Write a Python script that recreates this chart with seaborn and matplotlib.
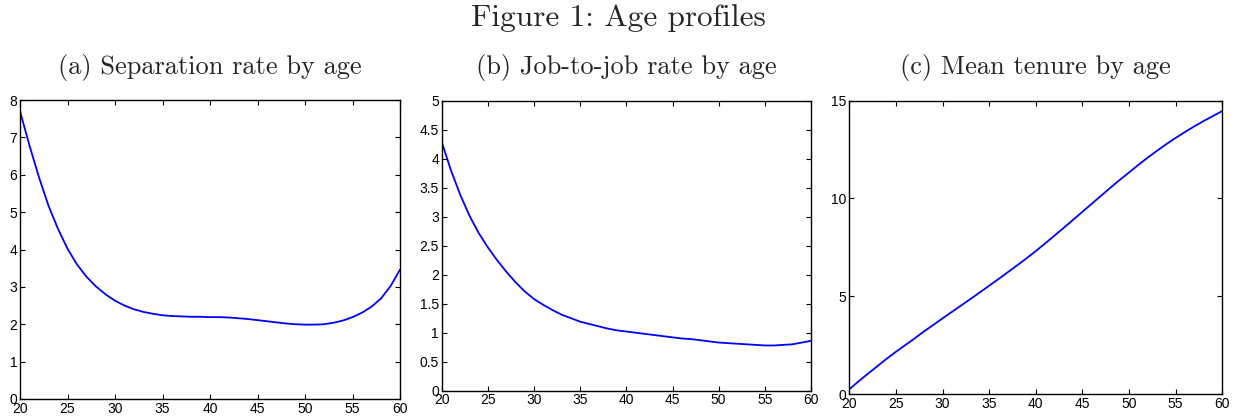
import numpy as np
import pandas as pd
import matplotlib
matplotlib.use("Agg")
import matplotlib.pyplot as plt
import seaborn as sns

ages = list(range(20, 61))

separation_rate = [7.70, 6.78, 5.93, 5.17, 4.55, 4.02, 3.60, 3.27, 3.01, 2.80,
                   2.63, 2.50, 2.40, 2.33, 2.28, 2.24, 2.22, 2.21, 2.20, 2.20,
                   2.19, 2.19, 2.18, 2.16, 2.14, 2.11, 2.08, 2.05, 2.02, 2.00,
                   1.99, 1.99, 2.00, 2.04, 2.10, 2.19, 2.31, 2.47, 2.69, 3.02,
                   3.46]

job_to_job_rate = [4.29, 3.80, 3.38, 3.02, 2.72, 2.47, 2.25, 2.05, 1.87, 1.71,
                   1.58, 1.48, 1.39, 1.31, 1.25, 1.19, 1.15, 1.11, 1.07, 1.04,
                   1.02, 1.00, 0.98, 0.96, 0.94, 0.92, 0.90, 0.89, 0.87, 0.85,
                   0.83, 0.82, 0.81, 0.80, 0.79, 0.78, 0.78, 0.79, 0.80, 0.83,
                   0.86]

mean_tenure = [0.24, 0.65, 1.04, 1.42, 1.80, 2.16, 2.50, 2.84, 3.20, 3.53,
               3.87, 4.20, 4.53, 4.86, 5.20, 5.54, 5.88, 6.23, 6.58, 6.94,
               7.31, 7.70, 8.10, 8.50, 8.91, 9.32, 9.73, 10.14, 10.55, 10.95,
               11.33, 11.72, 12.09, 12.44, 12.78, 13.10, 13.40, 13.69, 13.96, 14.22,
               14.47]

fig_title = "Figure 1: Age profiles"
panel_titles = ["(a) Separation rate by age",
                "(b) Job-to-job rate by age",
                "(c) Mean tenure by age"]
x_ticks = [20, 25, 30, 35, 40, 45, 50, 55, 60]
y_ticks_a = [0, 1, 2, 3, 4, 5, 6, 7, 8]
y_ticks_b = [0, 0.5, 1, 1.5, 2, 2.5, 3, 3.5, 4, 4.5, 5]
y_ticks_c = [0, 5, 10, 15]
y_labels_b = ["0", "0.5", "1", "1.5", "2", "2.5", "3", "3.5", "4", "4.5", "5"]

sns.set_style("ticks")
plt.rcParams['font.family'] = ['Liberation Sans', 'DejaVu Sans']

fig = plt.figure(figsize=(12.36, 4.17), dpi=100)

positions = [
    [20/1236, 18/417, 380/1236, 299/417],
    [441.7/1236, 26.3/417, 369.3/1236, 290/417],
    [849.3/1236, 23/417, 373/1236, 293.3/417],
]
series = [separation_rate, job_to_job_rate, mean_tenure]
yticks = [y_ticks_a, y_ticks_b, y_ticks_c]
ylims = [(0, 8), (0, 5), (0, 15)]

for i in range(3):
    ax = fig.add_axes(positions[i])
    df = pd.DataFrame({"age": ages, "value": series[i]})
    sns.lineplot(data=df, x="age", y="value", ax=ax, color="#0000ff", linewidth=1.3)
    ax.set_xlim(20, 60)
    ax.set_ylim(*ylims[i])
    ax.set_xticks(x_ticks)
    ax.set_yticks(yticks[i])
    if i == 1:
        ax.set_yticklabels(y_labels_b)
    ax.set_xlabel("")
    ax.set_ylabel("")
    for sp in ax.spines.values():
        sp.set_visible(True)
        sp.set_linewidth(1.0)
        sp.set_color("black")
    ax.tick_params(direction="in", top=True, right=True, length=3.5, width=0.8,
                   labelsize=10, pad=2, colors="black")
    ax.set_title(panel_titles[i], family="cmr10", fontsize=19, pad=19)

fig.suptitle(fig_title, family="cmr10", fontsize=22.5, y=1 - 18/417, va="center")

fig.savefig("out.png", dpi=100)
